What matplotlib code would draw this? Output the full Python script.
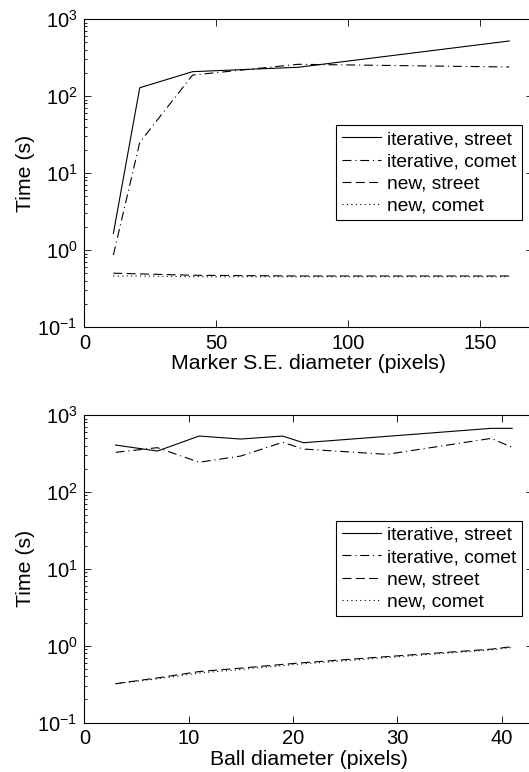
import matplotlib
matplotlib.use('Agg')
import matplotlib.pyplot as plt
from matplotlib.ticker import LogLocator, NullFormatter

plt.rcParams['font.family'] = ['Liberation Sans', 'DejaVu Sans']
plt.rcParams['mathtext.default'] = 'regular'

# Datos - diametro del elemento marcador
marker_d = [11, 21, 41, 81, 161]
marker_iter_street = [1.64, 128, 207, 236, 518]
marker_iter_comet = [0.86, 25, 187, 258, 238]
marker_new_street = [0.50, 0.49, 0.47, 0.46, 0.46]
marker_new_comet = [0.46, 0.46, 0.45, 0.45, 0.45]

# Datos - diametro de la bola
ball_d_street = [3, 7, 11, 15, 19, 21, 39, 41]
ball_iter_street = [407, 340, 533, 487, 533, 436, 671, 671]
ball_d = [3, 7, 11, 15, 19, 21, 29, 39, 41]
ball_iter_comet = [327, 376, 243, 293, 442, 361, 308, 497, 380]
ball_new_street = [0.32, 0.38, 0.46, 0.51, 0.57, 0.60, 0.72, 0.90, 0.97]
ball_new_comet = [0.32, 0.37, 0.44, 0.49, 0.55, 0.58, 0.70, 0.88, 0.95]

labels = ['iterative, street', 'iterative, comet', 'new, street', 'new, comet']
styles = ['-', (0, (8, 3.5, 1, 3.5)), (0, (8, 4)), (0, (1, 3))]
lw = 0.8
tick_fs = 14.5
label_fs = 15.3
legend_fs = 13.8


def style_axes(ax, xlim, xticks, xlabel):
    ax.set_yscale('log')
    ax.set_ylim(0.1, 1000)
    ax.set_xlim(*xlim)
    ax.set_xticks(xticks)
    ax.yaxis.set_major_locator(LogLocator(base=10, numticks=10))
    ax.yaxis.set_minor_locator(LogLocator(base=10, subs=range(2, 10), numticks=10))
    ax.yaxis.set_minor_formatter(NullFormatter())
    ax.tick_params(which='both', direction='in', top=True, right=True, width=0.6,
                   labelsize=tick_fs)
    ax.tick_params(which='major', length=5, pad=5)
    ax.tick_params(which='minor', length=2.5)
    ax.set_xlabel(xlabel, labelpad=1, fontsize=label_fs)
    ax.set_ylabel('Time (s)', labelpad=1.5, fontsize=label_fs)
    for s in ax.spines.values():
        s.set_linewidth(0.8)
    leg = ax.legend(loc='upper left', bbox_to_anchor=(0.561, 0.656),
                    borderaxespad=0, fancybox=False, framealpha=1,
                    edgecolor='black', handlelength=2.03, handletextpad=0.31,
                    labelspacing=0.25, borderpad=0.3, fontsize=legend_fs)
    leg.get_frame().set_linewidth(0.8)


fig = plt.figure(figsize=(5.29, 7.72), dpi=100)
ax1 = fig.add_axes([0.1594, 0.5764, 0.8482, 0.3990])
ax2 = fig.add_axes([0.1594, 0.0641, 0.8482, 0.3983])

ax1.plot(marker_d, marker_iter_street, color='black', lw=lw, linestyle=styles[0], label=labels[0])
ax1.plot(marker_d, marker_iter_comet, color='black', lw=lw, linestyle=styles[1], label=labels[1])
ax1.plot(marker_d, marker_new_street, color='black', lw=lw, linestyle=styles[2], label=labels[2])
ax1.plot(marker_d, marker_new_comet, color='black', lw=lw, linestyle=styles[3], label=labels[3])
style_axes(ax1, (0, 170), [0, 50, 100, 150], 'Marker S.E. diameter (pixels)')

ax2.plot(ball_d_street, ball_iter_street, color='black', lw=lw, linestyle=styles[0], label=labels[0])
ax2.plot(ball_d, ball_iter_comet, color='black', lw=lw, linestyle=styles[1], label=labels[1])
ax2.plot(ball_d, ball_new_street, color='black', lw=lw, linestyle=styles[2], label=labels[2])
ax2.plot(ball_d, ball_new_comet, color='black', lw=lw, linestyle=styles[3], label=labels[3])
style_axes(ax2, (0, 43), [0, 10, 20, 30, 40], 'Ball diameter (pixels)')

fig.savefig('out.png', dpi=100)
